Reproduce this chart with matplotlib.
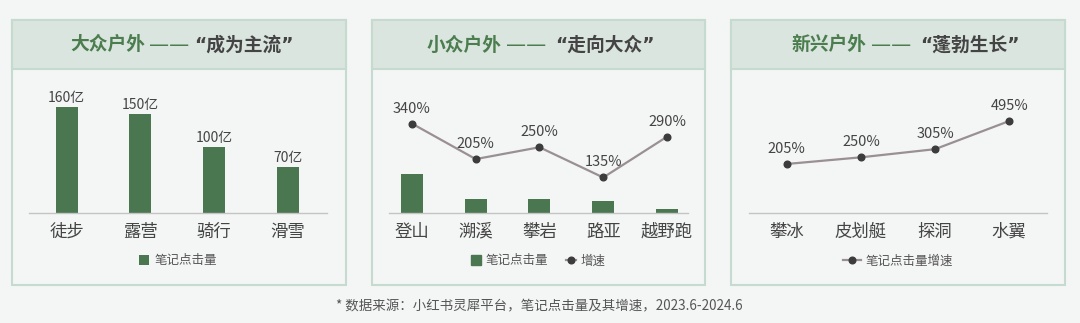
import matplotlib.pyplot as plt
from matplotlib.patches import Rectangle
from matplotlib.lines import Line2D

plt.rcParams['font.family'] = ['Noto Sans CJK SC', 'DejaVu Sans']

# data
mass_cats = ["徒步", "露营", "骑行", "滑雪"]
mass_clicks = [160, 150, 100, 70]          # 亿

niche_cats = ["登山", "溯溪", "攀岩", "路亚", "越野跑"]
niche_clicks = [59, 21, 21, 18, 6]
niche_growth = [340, 205, 250, 135, 290]   # %

new_cats = ["攀冰", "皮划艇", "探洞", "水翼"]
new_growth = [205, 250, 305, 495]          # %

title_heads = ["大众户外", "小众户外", "新兴户外"]
title_quotes = ["“成为主流”", "“走向大众”", "“蓬勃生长”"]
footnote = "* 数据来源：小红书灵犀平台，笔记点击量及其增速，2023.6-2024.6"

W, H = 1080, 323
BG = "#f4f6f5"
HEAD = "#dbe5df"
EDGE = "#c6dbd0"
GREEN = "#4a7650"
TITLE_GREEN = "#4b7d4f"
TXT = "#444444"
LINE = "#9a9094"
MARK = "#3c3c3c"
AXIS = "#c4c4c4"


def rect(x0, y0, x1, y1):
    return [x0 / W, 1 - y1 / H, (x1 - x0) / W, (y1 - y0) / H]


fig = plt.figure(figsize=(W / 100, H / 100), dpi=100, facecolor=BG)

# panel frames and header bands
panels = [(12, 346), (372, 705), (731, 1065)]
# (end of head chars, start of dashes, start of quote) in pixels
title_x = [(145, 149, 194), (502, 506, 555), (867, 871, 920)]
for (x0, x1), head, quote, (xa, xb, xc) in zip(panels, title_heads, title_quotes, title_x):
    fig.patches.append(Rectangle((x0 / W, 1 - 285 / H), (x1 - x0) / W, 265 / H,
                                 transform=fig.transFigure, facecolor=BG,
                                 edgecolor=EDGE, linewidth=1.5, zorder=-2))
    fig.patches.append(Rectangle((x0 / W, 1 - 69 / H), (x1 - x0) / W, 49 / H,
                                 transform=fig.transFigure, facecolor=HEAD,
                                 edgecolor=EDGE, linewidth=1.5, zorder=-1))
    ty = 1 - 45 / H
    fig.text(xa / W, ty, head, ha='right', va='center',
             fontsize=13.5, fontweight='bold', color=TITLE_GREEN)
    fig.text(xb / W, ty, "——", ha='left', va='center', family='DejaVu Sans',
             fontsize=14.5, color=TITLE_GREEN)
    # DejaVu first so the curly quotes stay narrow
    fig.text(xc / W, ty, quote, ha='left', va='center',
             family=['DejaVu Sans', 'Noto Sans CJK SC'],
             fontsize=13.5, fontweight='bold', color=TXT)


def style(ax, cats, xlim):
    ax.set_facecolor('none')
    for s in ['top', 'right', 'left']:
        ax.spines[s].set_visible(False)
    ax.spines['bottom'].set_color(AXIS)
    ax.spines['bottom'].set_linewidth(1)
    ax.set_xticks(range(len(cats)))
    ax.set_xticklabels(cats, fontsize=12.5, color=TXT)
    ax.tick_params(axis='x', length=0, pad=7)
    ax.set_yticks([])
    ax.set_xlim(*xlim)


# panel 1
ax1 = fig.add_axes(rect(29, 80, 327, 213))
style(ax1, mass_cats, (-0.51, 3.53))
ax1.bar(range(4), mass_clicks, width=0.3, color=GREEN, label="笔记点击量")
ax1.set_ylim(0, 200.6)
for i, v in enumerate(mass_clicks):
    ax1.annotate(f"{v}亿", (i, v), xytext=(0, 2), textcoords='offset pixels',
                 ha='center', va='bottom', fontsize=10, fontweight='medium', color=TXT)
ax1.legend(loc='center', bbox_to_anchor=(0.5, -0.36), frameon=False,
           fontsize=9, handlelength=0.8, handleheight=0.8, handletextpad=0.4,
           labelcolor="#555555")

# panel 2
ax2 = fig.add_axes(rect(389, 80, 688, 213))
style(ax2, niche_cats, (-0.36, 4.33))
ax2.bar(range(5), niche_clicks, width=0.345, color=GREEN)
ax2.set_ylim(0, 200.6)
ax2b = ax2.twinx()
ax2b.set_axis_off()
ax2b.plot(range(5), niche_growth, color=LINE, linewidth=1.6, marker='o',
          markersize=4.8, markerfacecolor=MARK, markeredgecolor=MARK)
ax2b.set_ylim(0, 505.7)
ax2b.set_xlim(-0.36, 4.33)
for i, v in enumerate(niche_growth):
    ax2b.annotate(f"{v}%", (i, v), xytext=(0, 8), textcoords='offset pixels',
                  ha='center', va='bottom', fontsize=10.5, fontweight='medium', color=TXT)
h2 = [Rectangle((0, 0), 1, 1, color=GREEN),
      Line2D([], [], color=LINE, linewidth=1.6, marker='o', markersize=4.8,
             markerfacecolor=MARK, markeredgecolor=MARK)]
ax2.legend(h2, ["笔记点击量", "增速"], loc='center', bbox_to_anchor=(0.5, -0.36),
           ncol=2, frameon=False, fontsize=9, handlelength=0.8, handleheight=0.8,
           handletextpad=0.4, columnspacing=1.4, labelcolor="#555555")

# panel 3
ax3 = fig.add_axes(rect(749, 80, 1047, 213))
style(ax3, new_cats, (-0.51, 3.51))
ax3.plot(range(4), new_growth, color=LINE, linewidth=1.6, marker='o',
         markersize=4.8, markerfacecolor=MARK, markeredgecolor=MARK,
         label="笔记点击量增速")
ax3.set_ylim(-126, 772)
for i, v in enumerate(new_growth):
    ax3.annotate(f"{v}%", (i, v), xytext=(0, 8), textcoords='offset pixels',
                 ha='center', va='bottom', fontsize=10.5, fontweight='medium', color=TXT)
ax3.legend(loc='center', bbox_to_anchor=(0.5, -0.36), frameon=False,
           fontsize=9, handlelength=1.4, handletextpad=0.4, labelcolor="#555555")

fig.text(539 / W, 1 - 306 / H, footnote, ha='center', va='center',
         fontsize=9.7, color="#555555")

fig.savefig("out.png", dpi=100, facecolor=BG)
